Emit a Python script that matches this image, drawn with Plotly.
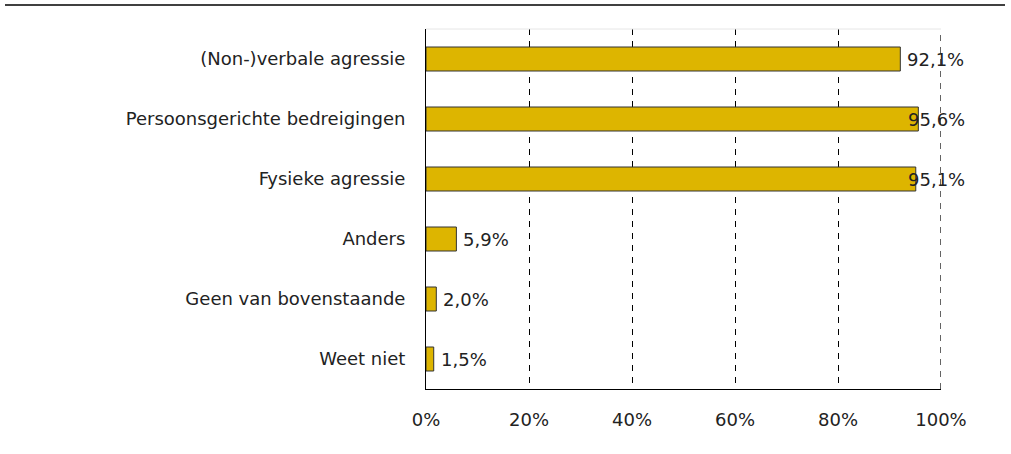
import plotly.graph_objects as go

categories = [
    "(Non-)verbale agressie",
    "Persoonsgerichte bedreigingen",
    "Fysieke agressie",
    "Anders",
    "Geen van bovenstaande",
    "Weet niet",
]
values = [92.1, 95.6, 95.1, 5.9, 2.0, 1.5]
tick_vals = [0, 20, 40, 60, 80, 100]
tick_text = ["0%", "20%", "40%", "60%", "80%", "100%"]

labels = [f"{v:.1f}%".replace(".", ",") for v in values]

font_family = "Verdana, DejaVu Sans, sans-serif"
grid_dash = "6px,6px"

fig = go.Figure()
fig.add_trace(go.Bar(
    x=values,
    y=categories,
    orientation="h",
    width=0.4,
    marker=dict(color="#DDB500", line=dict(color="#333333", width=1)),
    hoverinfo="x+y",
))

# value labels: right of bar, but held inside the plot for the longest bars
for cat, v, lab in zip(categories, values, labels):
    fig.add_annotation(
        x=min(v, 92.2), y=cat, text=lab, showarrow=False,
        xanchor="left", xshift=5,
        font=dict(family=font_family, size=18, color="#222222"),
    )

# dashed line at 100% (edge gridline is not drawn by plotly)
fig.add_vline(x=100, line=dict(color="#111111", width=1.3, dash=grid_dash))

# faint top frame of the plot area
fig.add_shape(type="line", xref="paper", yref="paper",
              x0=0, x1=1, y0=1, y1=1,
              line=dict(color="#e6e6e6", width=1))

# rule across the top of the page
fig.add_shape(type="line", xref="paper", yref="paper",
              x0=-0.8175, x1=1.1243, y0=1.0667, y1=1.0667,
              line=dict(color="black", width=1.5))

fig.update_layout(
    width=1011, height=454,
    margin=dict(l=426, r=70, t=29, b=65),
    paper_bgcolor="white",
    plot_bgcolor="white",
    showlegend=False,
    font=dict(family=font_family, size=18, color="#222222"),
    xaxis=dict(
        range=[0, 100],
        tickvals=tick_vals,
        ticktext=tick_text,
        showgrid=True,
        gridcolor="black",
        gridwidth=1,
        griddash=grid_dash,
        showline=True,
        linecolor="black",
        linewidth=1,
        zeroline=False,
        ticks="",
        ticklabelstandoff=14,
    ),
    yaxis=dict(
        categoryorder="array",
        categoryarray=categories,
        autorange="reversed",
        showline=True,
        linecolor="black",
        linewidth=1,
        showgrid=False,
        ticks="",
        ticklabelstandoff=16,
    ),
)

fig.write_html("out.html", config={"displayModeBar": False},
               post_script="document.body.style.margin='0';")
